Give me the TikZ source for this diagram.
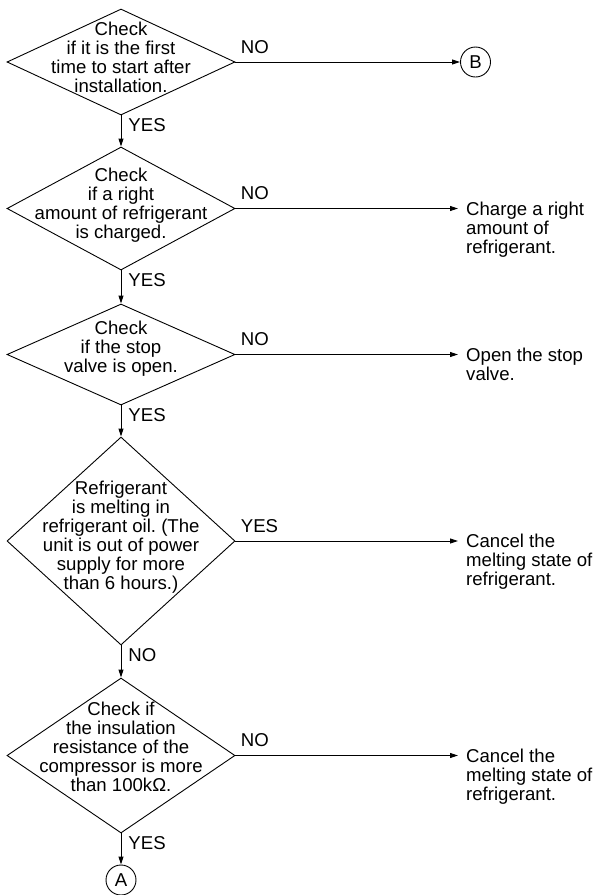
\documentclass[tikz,border=0pt]{standalone}
\usepackage{fontspec}
\setmainfont{Liberation Sans}
\usepackage{tikz}
\usetikzlibrary{arrows.meta,shapes.geometric,positioning}
\newcommand{\flowfont}{\fontsize{18.6}{19}\selectfont}
\frenchspacing
\tikzset{
	decision/.style={draw,diamond,line width=0.9pt,inner sep=0pt,minimum width=228pt},
	dtext/.style={align=center,inner sep=0pt,font=\flowfont},
	action/.style={align=left,anchor=north west,inner sep=0pt,font=\flowfont},
	joint/.style={draw,circle,line width=0.9pt,minimum size=30pt,inner sep=0pt,font=\flowfont},
	flow/.style={line width=0.9pt,-{Triangle[length=8pt,width=5pt]}},
	downlbl/.style={pos=0,anchor=north west,inner sep=0pt,xshift=7pt,yshift=-3pt,font=\flowfont},
	sidelbl/.style={pos=0,anchor=south west,inner sep=0pt,xshift=5pt,yshift=8pt,font=\flowfont}
}
\begin{document}
\begin{tikzpicture}[x=1pt,y=-1pt]
	\useasboundingbox (0,0) rectangle (596,895);
	\node[decision,minimum height=106pt] (D1) at (121,62) {};
	\node[dtext] (T1) at (121,57) {Check\\ if it is the first\\ time to start after\\ installation.};
	\node[decision,minimum height=123pt] (D2) at (121,208.5) {};
	\node[dtext] (T2) at (121,205) {Check\\ if a right\\ amount of refrigerant\\ is charged.};
	\node[decision,minimum height=101pt] (D3) at (121,354.5) {};
	\node[dtext] (T3) at (121,349) {Check\\ if the stop\\ valve is open.};
	\node[decision,minimum height=208pt] (D4) at (121,541) {};
	\node[dtext] (T4) at (121,537) {Refrigerant\\ is melting in\\ refrigerant oil. (The\\ unit is out of power\\ supply for more\\ than 6 hours.)};
	\node[decision,minimum height=155pt] (D5) at (121,755.5) {};
	\node[dtext] (T5) at (121,747) {Check if\\ the insulation\\ resistance of the\\ compressor is more\\ than 100kΩ.};
	\node[joint] (B) at (475.5,62) {B};
	\node[joint] (A) at (121,880) {A};
	\node[action] (R2) at (466,201.5) {Charge a right\\ amount of\\ refrigerant.};
	\node[action] (R3) at (466,347.5) {Open the stop\\ valve.};
	\node[action] (R4) at (466,534) {Cancel the\\ melting state of\\ refrigerant.};
	\node[action] (R5) at (466,748.5) {Cancel the\\ melting state of\\ refrigerant.};
	\draw[flow] (D1.east) -- node[sidelbl] {NO} (B.west);
	\draw[flow] (D1.south) -- node[downlbl] {YES} (D2.north);
	\draw[flow,shorten >=8pt] (D2.east) -- node[sidelbl] {NO} (D2.east -| R2.west);
	\draw[flow] (D2.south) -- node[downlbl] {YES} (D3.north);
	\draw[flow,shorten >=8pt] (D3.east) -- node[sidelbl] {NO} (D3.east -| R3.west);
	\draw[flow] (D3.south) -- node[downlbl] {YES} (D4.north);
	\draw[flow,shorten >=8pt] (D4.east) -- node[sidelbl] {YES} (D4.east -| R4.west);
	\draw[flow] (D4.south) -- node[downlbl] {NO} (D5.north);
	\draw[flow,shorten >=8pt] (D5.east) -- node[sidelbl] {NO} (D5.east -| R5.west);
	\draw[flow] (D5.south) -- node[downlbl] {YES} (A.north);
\end{tikzpicture}
\end{document}
